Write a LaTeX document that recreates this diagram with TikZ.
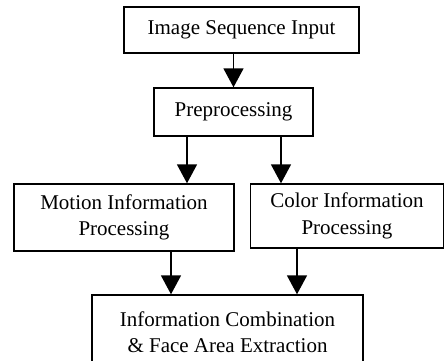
\documentclass[tikz,border=0pt]{standalone}
\usepackage{fontspec}
\setmainfont{Liberation Serif}
\usetikzlibrary{arrows.meta}
\begin{document}
\begin{tikzpicture}[x=1pt,y=-1pt,
  stage/.style={draw,line width=1.4pt,rectangle,inner sep=0pt,align=center,
    font=\fontsize{21}{26.5}\selectfont},
  flow/.style={line width=1.6pt,-{Triangle[width=20pt,length=19pt]}}]
\useasboundingbox (0,0) rectangle (445,360);
\clip (0,0) rectangle (445,360);
% processing stages
\node[stage,minimum width=235pt,minimum height=46pt] (input) at (241.5,30) {Image Sequence Input};
\node[stage,minimum width=159pt,minimum height=48pt] (pre) at (233.5,112) {Preprocessing};
\node[stage,minimum width=220pt,minimum height=67pt] (motion) at (124,217.5) {Motion Information\\Processing};
\node[stage,minimum width=193pt,minimum height=64pt] (color) at (347,216) {Color Information\\Processing};
\node[stage,minimum width=271pt,minimum height=74pt] (comb) at (227.5,332) {Information Combination\\\& Face Area Extraction};
% connectors
\draw[flow] (pre.north |- input.south) -- (pre.north);
\draw[flow] ([xshift=-46.5pt]pre.south) -- ([xshift=-46.5pt]pre.south |- motion.north);
\draw[flow] ([xshift=47.5pt]pre.south) -- ([xshift=47.5pt]pre.south |- color.north);
\draw[flow] ([xshift=47pt]motion.south) -- ([xshift=47pt]motion.south |- comb.north);
\draw[flow] ([xshift=-50pt]color.south) -- ([xshift=-50pt]color.south |- comb.north);
\end{tikzpicture}
\end{document}
